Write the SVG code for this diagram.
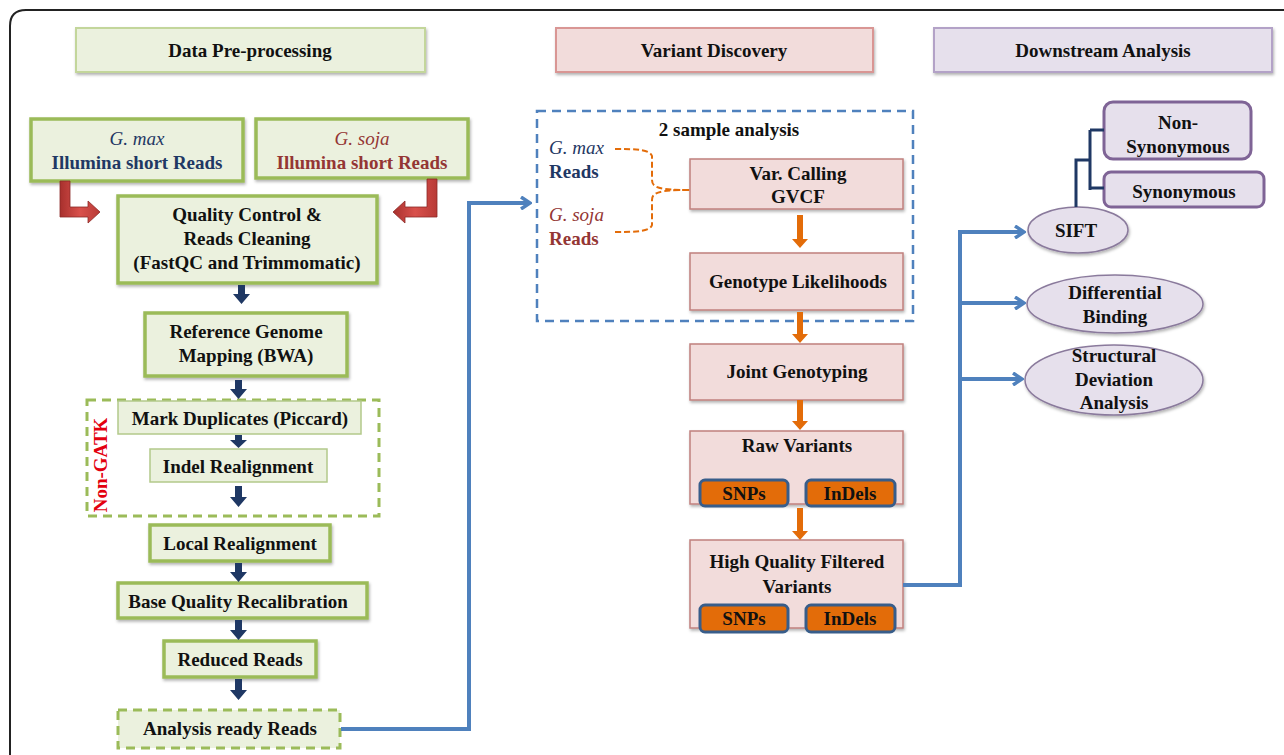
<svg xmlns="http://www.w3.org/2000/svg" width="1284" height="755" viewBox="0 0 1284 755">
<style>
text{font-family:"Liberation Serif","Times New Roman",serif;font-weight:bold;font-size:19px;fill:#111;text-anchor:middle}
.it{font-style:italic}
.g{fill:#ebf1de;stroke:#9bbb59;stroke-width:3.5}
.gt{fill:#ebf1de;stroke:#b3c98a;stroke-width:1.5}
.gh{fill:#ebf1de;stroke:#c3d69b;stroke-width:2}
.r{fill:#f2dcdb;stroke:#c0807e;stroke-width:1.5}
.rh{fill:#f2dcdb;stroke:#d99694;stroke-width:2}
.p{fill:#e6e0ec;stroke:#b3a2c7;stroke-width:2}
.pe{fill:#e6e0ec;stroke:#8a7a9c;stroke-width:1.5}
.pb{fill:#e6e0ec;stroke:#7f6496;stroke-width:3}
.o{fill:#e36c09;stroke:#385d8a;stroke-width:3}
.db{fill:#1f3864}
.or{fill:#e36c09}
.bl{stroke:#4f81bd;stroke-width:4;fill:none}
.sh{filter:url(#sh)}
</style>
<defs>
<filter id="sh" x="-10%" y="-10%" width="125%" height="135%">
<feDropShadow dx="1" dy="2" stdDeviation="1.5" flood-color="#000" flood-opacity="0.3"/>
</filter>
<marker id="chev" viewBox="0 0 12 14" refX="10" refY="7" markerWidth="12" markerHeight="14" markerUnits="userSpaceOnUse" orient="auto">
<path d="M1,1 L10,7 L1,13" fill="none" stroke="#4f81bd" stroke-width="3.5"/>
</marker>
<linearGradient id="rg" x1="0" y1="0" x2="1" y2="0">
<stop offset="0" stop-color="#a8302d"/>
<stop offset="0.5" stop-color="#d9514c"/>
<stop offset="1" stop-color="#b83a36"/>
</linearGradient>
</defs>

<rect width="1284" height="755" fill="#fff"/>
<path d="M10,755 V26 Q10,10 26,10 H1284" fill="none" stroke="#222" stroke-width="2"/>

<!-- headers -->
<g id="hdr-pre"><rect class="gh sh" x="76" y="28" width="349" height="44"/><text x="250" y="57">Data Pre-processing</text></g>
<g id="hdr-var"><rect class="rh sh" x="556" y="28" width="317" height="44"/><text x="714" y="57">Variant Discovery</text></g>
<g id="hdr-down"><rect class="p sh" x="934" y="28" width="338" height="44"/><text x="1103" y="57">Downstream Analysis</text></g>

<!-- pre-processing nodes -->
<g id="gmax"><rect class="g sh" x="31" y="119" width="212" height="62"/><text class="it" x="137" y="145" style="fill:#1f3864;font-weight:normal">G. max</text><text x="137" y="169" style="fill:#1f3864">Illumina short Reads</text></g>
<g id="gsoja"><rect class="g sh" x="256" y="119" width="212" height="59"/><text class="it" x="362" y="145" style="fill:#943634;font-weight:normal">G. soja</text><text x="362" y="169" style="fill:#943634">Illumina short Reads</text></g>
<g id="qc"><rect class="g sh" x="118" y="196" width="259" height="87"/><text x="247" y="221">Quality Control &amp;</text><text x="247" y="245">Reads Cleaning</text><text x="247" y="269">(FastQC and Trimmomatic)</text></g>
<g id="refmap"><rect class="g sh" x="145" y="313" width="202" height="63"/><text x="246" y="338">Reference Genome</text><text x="246" y="362">Mapping (BWA)</text></g>
<g id="nongatk"><rect x="87" y="400" width="292" height="116" fill="none" stroke="#9bbb59" stroke-width="3" stroke-dasharray="9,6"/><text x="0" y="0" transform="translate(107,465) rotate(-90)" style="fill:#e3000f">Non-GATK</text></g>
<g id="markdup"><rect class="gt" x="118" y="401" width="243" height="33"/><text x="240" y="425">Mark Duplicates  (Piccard)</text></g>
<g id="indel"><rect class="gt" x="150" y="449" width="177" height="33"/><text x="238" y="473">Indel Realignment</text></g>
<g id="localre"><rect class="g sh" x="150" y="525" width="180" height="36"/><text x="240" y="550">Local Realignment</text></g>
<g id="bqr"><rect class="g sh" x="118" y="583" width="249" height="35"/><text x="238" y="608">Base Quality  Recalibration</text></g>
<g id="reduced"><rect class="g sh" x="164" y="641" width="152" height="36"/><text x="240" y="666">Reduced Reads</text></g>
<g id="ready"><rect x="118" y="710" width="222" height="38" fill="#ebf1de" stroke="#9bbb59" stroke-width="3" stroke-dasharray="9,6"/><text x="230" y="735">Analysis ready Reads</text></g>

<!-- variant discovery -->
<g id="twosample"><rect x="537" y="111" width="376" height="210" fill="none" stroke="#4f81bd" stroke-width="2.5" stroke-dasharray="9,6"/><text x="729" y="136">2 sample analysis</text>
<text class="it" x="549" y="154" style="text-anchor:start;fill:#1f3864;font-weight:normal">G. max</text><text x="549" y="178" style="text-anchor:start;fill:#1f3864">Reads</text>
<text class="it" x="549" y="221" style="text-anchor:start;fill:#943634;font-weight:normal">G. soja</text><text x="549" y="245" style="text-anchor:start;fill:#943634">Reads</text></g>
<g id="varcall"><rect class="r sh" x="690" y="159" width="213" height="50"/><text x="798" y="180">Var. Calling</text><text x="798" y="203">GVCF</text></g>
<g id="genolik"><rect class="r sh" x="690" y="253" width="213" height="57"/><text x="798" y="288">Genotype Likelihoods</text></g>
<g id="joint"><rect class="r sh" x="690" y="344" width="213" height="56"/><text x="797" y="378">Joint Genotyping</text></g>
<g id="raw"><rect class="r sh" x="690" y="431" width="213" height="73"/><text x="797" y="452">Raw Variants</text>
<rect class="o" x="700" y="480" width="88" height="26" rx="5"/><text x="744" y="500">SNPs</text>
<rect class="o" x="806" y="480" width="89" height="26" rx="5"/><text x="850" y="500">InDels</text></g>
<g id="hq"><rect class="r sh" x="690" y="540" width="213" height="88"/><text x="797" y="568">High Quality Filtered</text><text x="797" y="593">Variants</text>
<rect class="o" x="700" y="605" width="88" height="27" rx="5"/><text x="744" y="625">SNPs</text>
<rect class="o" x="806" y="605" width="89" height="27" rx="5"/><text x="850" y="625">InDels</text></g>

<!-- downstream -->
<g id="sift"><ellipse class="pe sh" cx="1078" cy="230" rx="50" ry="23"/><text x="1076" y="237">SIFT</text></g>
<g id="diff"><ellipse class="pe sh" cx="1115" cy="304" rx="88" ry="29"/><text x="1115" y="299">Differential</text><text x="1115" y="323">Binding</text></g>
<g id="struct"><ellipse class="pe sh" cx="1114" cy="380" rx="89" ry="35"/><text x="1114" y="362">Structural</text><text x="1114" y="386">Deviation</text><text x="1114" y="409">Analysis</text></g>
<g id="nonsyn"><rect class="pb" x="1104" y="102" width="147" height="57" rx="9"/><text x="1178" y="129">Non-</text><text x="1178" y="153">Synonymous</text></g>
<g id="syn"><rect class="pb" x="1104" y="172" width="160" height="35" rx="7"/><text x="1184" y="198">Synonymous</text></g>

<!-- connectors -->
<g id="connectors">
<polygon points="60,181 70,181 70,207 88,207 88,201 100,212 88,223 88,217 60,217" fill="url(#rg)" stroke="#8c2a27" stroke-width="0.8"/>
<polygon points="427,179 437,179 437,217 405,217 405,223 393,212 405,201 405,207 427,207" fill="url(#rg)" stroke="#8c2a27" stroke-width="0.8"/>
<polygon class="db" points="238,285 245,285 245,294 250,294 241.5,304 233,294 238,294"/>
<polygon class="db" points="235,380 242,380 242,389 247,389 238.5,399 230,389 235,389"/>
<polygon class="db" points="235,435 242,435 242,440 247,440 238.5,448 230,440 235,440"/>
<polygon class="db" points="235,486 242,486 242,497 247,497 238.5,507 230,497 235,497"/>
<polygon class="db" points="235,563 242,563 242,572 247,572 238.5,582 230,572 235,572"/>
<polygon class="db" points="235,620 242,620 242,630 247,630 238.5,640 230,630 235,630"/>
<polygon class="db" points="235,679 242,679 242,690 247,690 238.5,700 230,690 235,690"/>
<path class="bl" d="M341,729 H469 V203 H530" marker-end="url(#chev)"/>
<path d="M615,149 C640,149 650,150 652,156 V180 C652,188 660,190 690,190" fill="none" stroke="#e36c09" stroke-width="2" stroke-dasharray="6,3"/>
<path d="M615,232 C640,232 650,231 652,225 V200 C652,192 660,190 690,190" fill="none" stroke="#e36c09" stroke-width="2" stroke-dasharray="6,3"/>
<polygon class="or" points="797,215 803,215 803,239 808,239 800,248 792,239 797,239"/>
<polygon class="or" points="797,312 803,312 803,334 808,334 800,343 792,334 797,334"/>
<polygon class="or" points="797,400 803,400 803,421 808,421 800,430 792,421 797,421"/>
<polygon class="or" points="797,508 803,508 803,531 808,531 800,540 792,531 797,531"/>
<path class="bl" d="M903,585 H960 V230"/>
<line class="bl" x1="960" y1="232" x2="1024" y2="232" marker-end="url(#chev)"/>
<line class="bl" x1="960" y1="303" x2="1024" y2="303" marker-end="url(#chev)"/>
<line class="bl" x1="960" y1="379" x2="1022" y2="379" marker-end="url(#chev)"/>
<path d="M1076,207 V160 H1090 M1090,130 V190 M1090,130 H1104 M1090,188 H1104" fill="none" stroke="#1f3864" stroke-width="3"/>
</g>
</svg>
